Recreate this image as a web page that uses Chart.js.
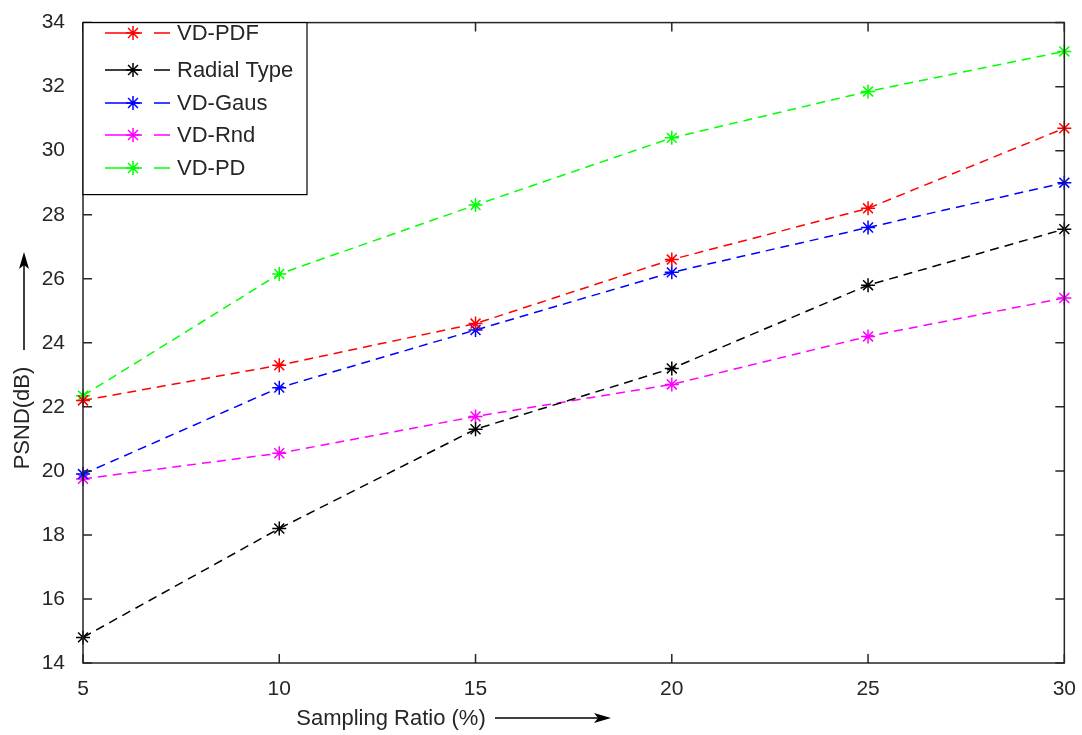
<!DOCTYPE html>
<html>
<head>
<meta charset="utf-8">
<script src="https://cdn.jsdelivr.net/npm/chart.js@4"></script>
<style>
  html, body { margin: 0; padding: 0; background: #fff; }
  #wrap { width: 1082px; height: 735px; }
</style>
</head>
<body>
<div id="wrap"><canvas id="myChart" width="1082" height="735"></canvas></div>
<script>
// sampling ratios (%)
var ratios = [5, 10, 15, 20, 25, 30];
// PSND (dB) per method
var vdPdf = [22.2, 23.3, 24.6, 26.6, 28.2, 30.7];
var radialType = [14.8, 18.2, 21.3, 23.2, 25.8, 27.55];
var vdGaus = [19.9, 22.6, 24.4, 26.2, 27.6, 29.0];
var vdRnd = [19.75, 20.55, 21.7, 22.7, 24.2, 25.4];
var vdPd = [22.35, 26.15, 28.3, 30.4, 31.85, 33.1];

var names = ['VD-PDF', 'Radial Type', 'VD-Gaus', 'VD-Rnd', 'VD-PD'];
var colors = ['#ff0000', '#000000', '#0000ff', '#ff00ff', '#00ff00'];
var series = [vdPdf, radialType, vdGaus, vdRnd, vdPd];

var FONT = '"Liberation Sans", Arial, sans-serif';
var dash = [9, 6];

function pts(arr) {
  return arr.map(function (v, i) { return { x: ratios[i], y: v }; });
}

//frame, inward ticks, legend, titles with arrows
var decor = {
  id: 'decor',
  afterDraw: function (chart) {
    var c = chart.ctx, a = chart.chartArea;
    var xs = chart.scales.x, ys = chart.scales.y;
    c.save();
    c.strokeStyle = '#262626';
    c.lineWidth = 1.5;
    c.strokeRect(a.left, a.top, a.right - a.left, a.bottom - a.top);
    c.beginPath();
    ratios.forEach(function (r) {
      var px = xs.getPixelForValue(r);
      c.moveTo(px, a.bottom); c.lineTo(px, a.bottom - 9);
      c.moveTo(px, a.top); c.lineTo(px, a.top + 9);
    });
    for (var v = 14; v <= 34; v += 2) {
      var py = ys.getPixelForValue(v);
      c.moveTo(a.left, py); c.lineTo(a.left + 9, py);
      c.moveTo(a.right, py); c.lineTo(a.right - 9, py);
    }
    c.stroke();

    // legend
    var lx = a.left, ly = a.top, lw = 224, lh = 172;
    c.fillStyle = '#fff';
    c.fillRect(lx, ly, lw, lh);
    c.strokeStyle = '#000';
    c.lineWidth = 1.2;
    c.strokeRect(lx, ly, lw, lh);
    var rows = [33, 70, 103, 135, 168];
    c.font = '22px ' + FONT;
    c.textBaseline = 'middle';
    names.forEach(function (n, i) {
      var y = rows[i];
      c.strokeStyle = colors[i];
      c.lineWidth = 1.5;
      c.beginPath();
      c.moveTo(105, y); c.lineTo(124, y);
      c.moveTo(154, y); c.lineTo(170, y);
      c.moveTo(124, y); c.lineTo(142, y);
      c.stroke();
      // star marker
      c.beginPath();
      var r = 7;
      for (var k = 0; k < 4; k++) {
        var ang = k * Math.PI / 4;
        c.moveTo(133 - r * Math.cos(ang), y - r * Math.sin(ang));
        c.lineTo(133 + r * Math.cos(ang), y + r * Math.sin(ang));
      }
      c.stroke();
      c.fillStyle = '#262626';
      c.textAlign = 'left';
      c.fillText(n, 177, y + 1);
    });

    // axis titles
    c.fillStyle = '#262626';
    c.textAlign = 'center';
    c.fillText('Sampling Ratio (%)', 391, 719);
    c.save();
    c.translate(23, 418);
    c.rotate(-Math.PI / 2);
    c.fillText('PSND(dB)', 0, 0);
    c.restore();

    // arrows
    c.strokeStyle = '#000';
    c.fillStyle = '#000';
    c.lineWidth = 1.5;
    c.beginPath();
    c.moveTo(495, 718); c.lineTo(600, 718);
    c.moveTo(24, 350); c.lineTo(24, 262);
    c.stroke();
    c.beginPath();
    c.moveTo(611, 718); c.lineTo(594, 713); c.lineTo(598, 718); c.lineTo(594, 723); c.closePath();
    c.fill();
    c.beginPath();
    c.moveTo(24, 252); c.lineTo(19, 269); c.lineTo(24, 265); c.lineTo(29, 269); c.closePath();
    c.fill();
    c.restore();
  }
};

var ctx = document.getElementById('myChart').getContext('2d');
var myChart = new Chart(ctx, {
  type: 'line',
  data: {
    datasets: series.map(function (s, i) {
      return {
        label: names[i],
        data: pts(s),
        borderColor: colors[i],
        backgroundColor: colors[i],
        borderWidth: 1.5,
        borderDash: dash,
        pointStyle: 'star',
        pointRadius: 7,
        pointBorderWidth: 1.5,
        pointBorderColor: colors[i],
        tension: 0,
        clip: false
      };
    })
  },
  options: {
    responsive: false,
    animation: false,
    layout: { padding: { top: 16, right: 15, left: 0, bottom: 0 } },
    plugins: {
      legend: { display: false },
      tooltip: { enabled: false }
    },
    scales: {
      x: {
        type: 'linear',
        min: 5,
        max: 30,
        afterFit: function (s) { s.height = 72; },
        ticks: {
          stepSize: 5,
          padding: 6,
          color: '#262626',
          font: { family: FONT, size: 21 }
        },
        grid: { display: false },
        border: { display: false }
      },
      y: {
        min: 14,
        max: 34,
        afterFit: function (s) { s.width = 83; },
        ticks: {
          stepSize: 2,
          padding: 10,
          color: '#262626',
          font: { family: FONT, size: 21 }
        },
        grid: { display: false },
        border: { display: false }
      }
    }
  },
  plugins: [decor]
});
</script>
</body>
</html>
